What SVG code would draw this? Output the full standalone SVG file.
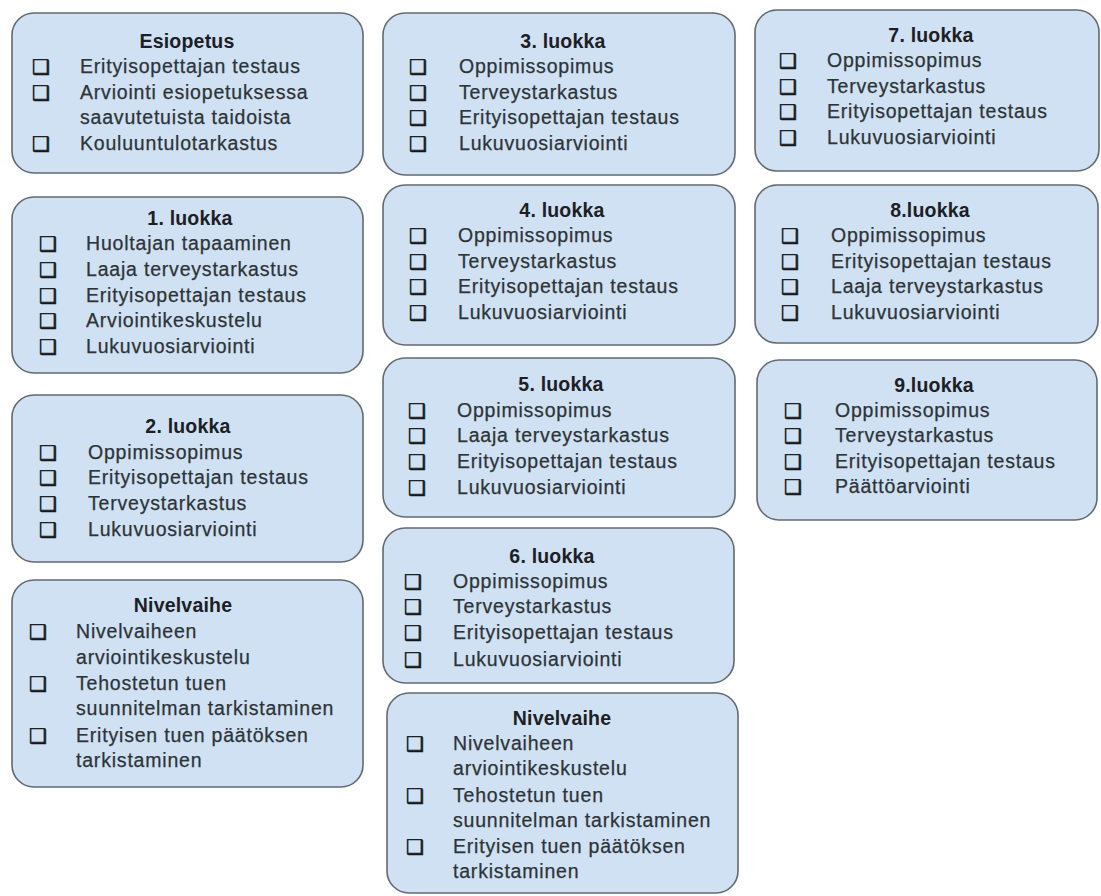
<svg xmlns="http://www.w3.org/2000/svg" width="1101" height="896" viewBox="0 0 1101 896">
<style>
.box{fill:#cfe1f2;stroke:#636a72;stroke-width:1.6}
.t{font-family:"Liberation Sans",Arial,sans-serif;font-weight:bold;font-size:19.5px;letter-spacing:0.2px;fill:#1c2024;text-anchor:middle}
.i{font-family:"Liberation Sans",Arial,sans-serif;font-size:19.5px;letter-spacing:0.8px;fill:#2e3338;stroke:#2e3338;stroke-width:0.25px}
.b{font-family:"DejaVu Sans",sans-serif;font-size:20px;fill:#15181b;stroke:#15181b;stroke-width:0.6px}
</style>
<rect width="1101" height="896" fill="#ffffff"/>
<g id="connectors"/>

<g id="esiopetus">
<rect class="box" x="12" y="13" width="351" height="160" rx="22"/>
<text class="t" x="187" y="48">Esiopetus</text>
<text class="b" x="32" y="74">❑</text><text class="i" x="80" y="73">Erityisopettajan testaus</text>
<text class="b" x="32" y="100">❑</text><text class="i" x="80" y="99">Arviointi esiopetuksessa</text>
<text class="i" x="80" y="124">saavutetuista taidoista</text>
<text class="b" x="32" y="151">❑</text><text class="i" x="80" y="150">Kouluuntulotarkastus</text>
</g>

<g id="luokka1">
<rect class="box" x="12" y="197" width="351" height="176" rx="22"/>
<text class="t" x="190" y="225">1. luokka</text>
<text class="b" x="39" y="251">❑</text><text class="i" x="86" y="250">Huoltajan tapaaminen</text>
<text class="b" x="39" y="277">❑</text><text class="i" x="86" y="276">Laaja terveystarkastus</text>
<text class="b" x="39" y="303">❑</text><text class="i" x="86" y="302">Erityisopettajan testaus</text>
<text class="b" x="39" y="328">❑</text><text class="i" x="86" y="327">Arviointikeskustelu</text>
<text class="b" x="39" y="354">❑</text><text class="i" x="86" y="353">Lukuvuosiarviointi</text>
</g>

<g id="luokka2">
<rect class="box" x="12" y="395" width="351" height="167" rx="22"/>
<text class="t" x="188" y="433">2. luokka</text>
<text class="b" x="39" y="460">❑</text><text class="i" x="88" y="459">Oppimissopimus</text>
<text class="b" x="39" y="485">❑</text><text class="i" x="88" y="484">Erityisopettajan testaus</text>
<text class="b" x="39" y="511">❑</text><text class="i" x="88" y="510">Terveystarkastus</text>
<text class="b" x="39" y="537">❑</text><text class="i" x="88" y="536">Lukuvuosiarviointi</text>
</g>

<g id="nivelvaihe1">
<rect class="box" x="12" y="580" width="351" height="207" rx="22"/>
<text class="t" x="183" y="612">Nivelvaihe</text>
<text class="b" x="29" y="639">❑</text><text class="i" x="76" y="638">Nivelvaiheen</text>
<text class="i" x="76" y="664">arviointikeskustelu</text>
<text class="b" x="29" y="691">❑</text><text class="i" x="76" y="690">Tehostetun tuen</text>
<text class="i" x="76" y="715">suunnitelman tarkistaminen</text>
<text class="b" x="29" y="743">❑</text><text class="i" x="76" y="742">Erityisen tuen päätöksen</text>
<text class="i" x="76" y="767">tarkistaminen</text>
</g>

<g id="luokka3">
<rect class="box" x="383" y="13" width="352" height="162" rx="22"/>
<text class="t" x="563" y="48">3. luokka</text>
<text class="b" x="409" y="74">❑</text><text class="i" x="459" y="73">Oppimissopimus</text>
<text class="b" x="409" y="100">❑</text><text class="i" x="459" y="99">Terveystarkastus</text>
<text class="b" x="409" y="125">❑</text><text class="i" x="459" y="124">Erityisopettajan testaus</text>
<text class="b" x="409" y="151">❑</text><text class="i" x="459" y="150">Lukuvuosiarviointi</text>
</g>

<g id="luokka4">
<rect class="box" x="383" y="185" width="352" height="160" rx="22"/>
<text class="t" x="562" y="217">4. luokka</text>
<text class="b" x="409" y="243">❑</text><text class="i" x="458" y="242">Oppimissopimus</text>
<text class="b" x="409" y="269">❑</text><text class="i" x="458" y="268">Terveystarkastus</text>
<text class="b" x="409" y="294">❑</text><text class="i" x="458" y="293">Erityisopettajan testaus</text>
<text class="b" x="409" y="320">❑</text><text class="i" x="458" y="319">Lukuvuosiarviointi</text>
</g>

<g id="luokka5">
<rect class="box" x="383" y="358" width="352" height="159" rx="22"/>
<text class="t" x="561" y="391">5. luokka</text>
<text class="b" x="408" y="418">❑</text><text class="i" x="457" y="417">Oppimissopimus</text>
<text class="b" x="408" y="443">❑</text><text class="i" x="457" y="442">Laaja terveystarkastus</text>
<text class="b" x="408" y="469">❑</text><text class="i" x="457" y="468">Erityisopettajan testaus</text>
<text class="b" x="408" y="495">❑</text><text class="i" x="457" y="494">Lukuvuosiarviointi</text>
</g>

<g id="luokka6">
<rect class="box" x="383" y="528" width="351" height="155" rx="22"/>
<text class="t" x="552" y="563">6. luokka</text>
<text class="b" x="404" y="589">❑</text><text class="i" x="453" y="588">Oppimissopimus</text>
<text class="b" x="404" y="614">❑</text><text class="i" x="453" y="613">Terveystarkastus</text>
<text class="b" x="404" y="640">❑</text><text class="i" x="453" y="639">Erityisopettajan testaus</text>
<text class="b" x="404" y="667">❑</text><text class="i" x="453" y="666">Lukuvuosiarviointi</text>
</g>

<g id="nivelvaihe2">
<rect class="box" x="387" y="693" width="351" height="200" rx="22"/>
<text class="t" x="562" y="725">Nivelvaihe</text>
<text class="b" x="406" y="751">❑</text><text class="i" x="453" y="750">Nivelvaiheen</text>
<text class="i" x="453" y="775">arviointikeskustelu</text>
<text class="b" x="406" y="803">❑</text><text class="i" x="453" y="802">Tehostetun tuen</text>
<text class="i" x="453" y="827">suunnitelman tarkistaminen</text>
<text class="b" x="406" y="854">❑</text><text class="i" x="453" y="853">Erityisen tuen päätöksen</text>
<text class="i" x="453" y="878">tarkistaminen</text>
</g>

<g id="luokka7">
<rect class="box" x="755" y="10" width="344" height="161" rx="22"/>
<text class="t" x="931" y="42">7. luokka</text>
<text class="b" x="779" y="68">❑</text><text class="i" x="827" y="67">Oppimissopimus</text>
<text class="b" x="779" y="94">❑</text><text class="i" x="827" y="93">Terveystarkastus</text>
<text class="b" x="779" y="119">❑</text><text class="i" x="827" y="118">Erityisopettajan testaus</text>
<text class="b" x="779" y="145">❑</text><text class="i" x="827" y="144">Lukuvuosiarviointi</text>
</g>

<g id="luokka8">
<rect class="box" x="755" y="185" width="343" height="158" rx="22"/>
<text class="t" x="930" y="217">8.luokka</text>
<text class="b" x="781" y="243">❑</text><text class="i" x="831" y="242">Oppimissopimus</text>
<text class="b" x="781" y="269">❑</text><text class="i" x="831" y="268">Erityisopettajan testaus</text>
<text class="b" x="781" y="294">❑</text><text class="i" x="831" y="293">Laaja terveystarkastus</text>
<text class="b" x="781" y="320">❑</text><text class="i" x="831" y="319">Lukuvuosiarviointi</text>
</g>

<g id="luokka9">
<rect class="box" x="757" y="360" width="340" height="160" rx="22"/>
<text class="t" x="934" y="392">9.luokka</text>
<text class="b" x="784" y="418">❑</text><text class="i" x="835" y="417">Oppimissopimus</text>
<text class="b" x="784" y="443">❑</text><text class="i" x="835" y="442">Terveystarkastus</text>
<text class="b" x="784" y="469">❑</text><text class="i" x="835" y="468">Erityisopettajan testaus</text>
<text class="b" x="784" y="494">❑</text><text class="i" x="835" y="493">Päättöarviointi</text>
</g>
</svg>
